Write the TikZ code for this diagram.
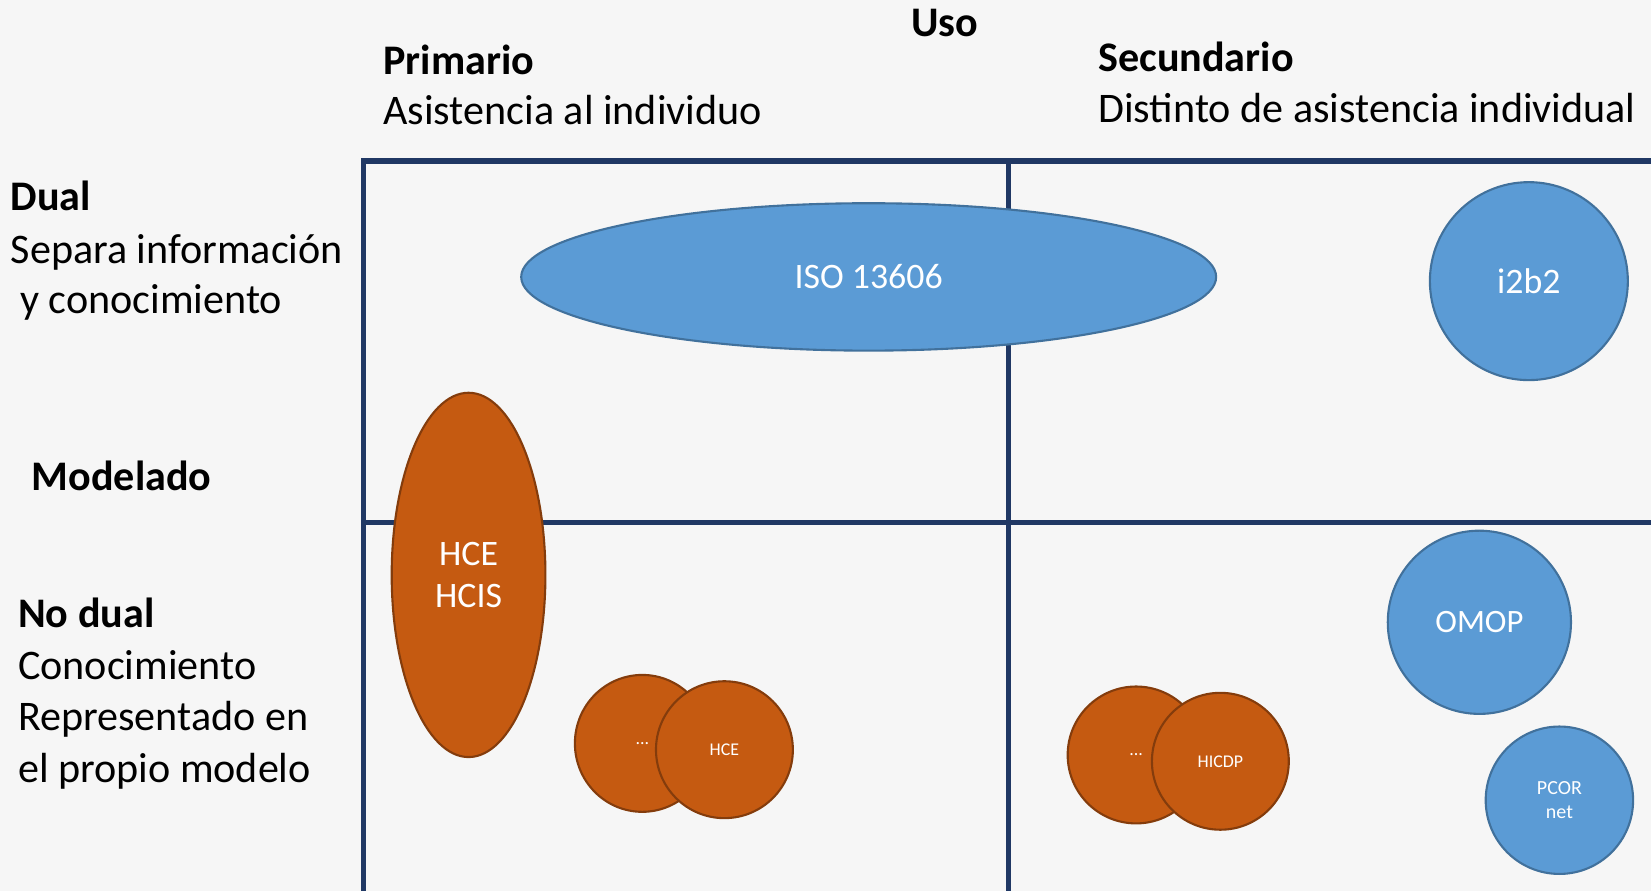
\documentclass[tikz,border=0pt]{standalone}
\usepackage{fontspec}
\setmainfont{Carlito}
\usetikzlibrary{shapes.geometric}
\definecolor{bgc}{HTML}{F6F6F6}
\definecolor{gridc}{HTML}{203864}
\definecolor{bluef}{HTML}{5B9BD5}
\definecolor{bluel}{HTML}{41719C}
\definecolor{orf}{HTML}{C55A11}
\definecolor{orl}{HTML}{843C0C}
\tikzset{
  lbl/.style={anchor=base west, inner sep=0pt, font=\fontsize{40}{48}\selectfont},
  hdr/.style={lbl, font=\fontsize{40}{48}\selectfont\bfseries},
  gridline/.style={draw=gridc, line width=5pt},
  blueshape/.style={ellipse, draw=bluel, fill=bluef, line width=2pt, inner sep=0pt, text=white, align=center},
  orshape/.style={ellipse, draw=orl, fill=orf, line width=2pt, inner sep=0pt, text=white, align=center},
}
\begin{document}
\begin{tikzpicture}[x=1pt,y=-1pt]
\useasboundingbox (0,0) rectangle (1568,846);
\fill[bgc] (0,0) rectangle (1568,846);
\begin{scope}
\clip (0,0) rectangle (1568,846);
\draw[gridline] (1580,153) -- (345,153) -- (345,860);
\draw[gridline] (958,153) -- (958,860);
\draw[gridline] (345,496) -- (1580,496);
\end{scope}
% headers
\node[hdr, anchor=base] (uso) at (897,35) {Uso};
\node[hdr] (prim) at (364,71) {Primario};
\node[lbl] (prim2) at (364,118) {Asistencia al individuo};
\node[hdr] (sec) at (1043,68) {Secundario};
\node[lbl] (sec2) at (1043,116) {Distinto de asistencia individual};
\node[hdr] (dual) at (10,200) {Dual};
\node[lbl] (dual2) at (10,250) {Separa información};
\node[lbl] (dual3) at (10,298) {\ y conocimiento};
\node[hdr] (mod) at (30,466) {Modelado};
\node[hdr] (nodual) at (17,596) {No dual};
\node[lbl] (nd2) at (17,645) {Conocimiento};
\node[lbl] (nd3) at (17,694) {Representado en};
\node[lbl] (nd4) at (17,743) {el propio modelo};
% shapes
\node[blueshape, minimum width=660pt, minimum height=140pt, font=\fontsize{34}{40}\selectfont] (iso) at (825,263) {ISO 13606};
\node[blueshape, minimum width=188pt, minimum height=188pt, font=\fontsize{34}{40}\selectfont] (i2b2) at (1452,267) {i2b2};
\node[orshape, minimum width=146pt, minimum height=346pt, font=\fontsize{34}{40}\selectfont] (hce) at (445,546) {HCE\\HCIS};
\node[orshape, minimum width=128pt, minimum height=130pt, font=\fontsize{17}{20}\selectfont] (d1) at (610,706) {...};
\node[orshape, minimum width=130pt, minimum height=130pt, font=\fontsize{17}{20}\selectfont] (hce2) at (688,712) {HCE};
\node[orshape, minimum width=130pt, minimum height=130pt, font=\fontsize{17}{20}\selectfont] (d2) at (1079,717) {...};
\node[orshape, minimum width=130pt, minimum height=130pt, font=\fontsize{17}{20}\selectfont] (hicdp) at (1159,723) {HICDP};
\node[blueshape, minimum width=174pt, minimum height=174pt, font=\fontsize{31}{38}\selectfont] (omop) at (1405,591) {OMOP};
\node[blueshape, minimum width=140pt, minimum height=140pt, font=\fontsize{19}{23}\selectfont] (pcor) at (1481,760) {PCOR\\net};
\end{tikzpicture}
\end{document}
